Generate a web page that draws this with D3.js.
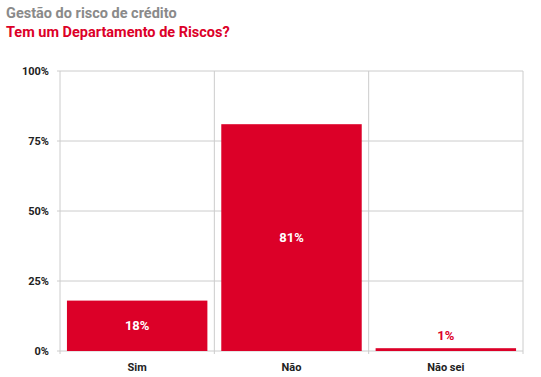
<!DOCTYPE html>
<html>
<head>
<meta charset="utf-8">
<script src="https://cdnjs.cloudflare.com/ajax/libs/d3/7.8.5/d3.min.js"></script>
<style>
  body { margin: 0; background: #fff; }
  text { font-family: Roboto, "Open Sans", sans-serif; }
</style>
</head>
<body>
<script>
var categories = ["Sim", "Não", "Não sei"];
var values = [18, 81, 1];
var yTicks = [0, 25, 50, 75, 100];
var title = "Gestão do risco de crédito";
var subtitle = "Tem um Departamento de Riscos?";

var W = 541, H = 377,
    margins = {top: 71, right: 18, bottom: 26, left: 60},
    width = W - margins.left - margins.right,
    height = H - margins.top - margins.bottom,
    red = "#dc0028";

var svg = d3.select("body").append("svg")
    .attr("width", W)
    .attr("height", H);

svg.append("text")
    .attr("x", 6).attr("y", 18)
    .attr("font-size", 14.5).attr("font-weight", "bold")
    .attr("fill", "#8a8a8a")
    .text(title);

svg.append("text")
    .attr("x", 6).attr("y", 37)
    .attr("font-size", 14.5).attr("font-weight", "bold")
    .attr("fill", red)
    .text(subtitle);

var x = d3.scaleBand()
    .domain(categories)
    .range([0, width])
    .paddingInner(0.09)
    .paddingOuter(0.045);

var y = d3.scaleLinear()
    .domain([0, 100])
    .range([height, 0]);

var g = svg.append("g")
    .attr("transform", "translate(" + margins.left + "," + margins.top + ")");

// horizontal grid
g.selectAll("line.hgrid")
    .data(yTicks)
    .enter().append("line")
    .attr("class", "hgrid")
    .attr("x1", -3).attr("x2", width)
    .attr("y1", function(d) { return y(d); })
    .attr("y2", function(d) { return y(d); })
    .attr("stroke", "#cccccc");

// vertical dividers at band edges
var step = width / categories.length;
var edges = d3.range(categories.length + 1).map(function(i) { return i * step; });
g.selectAll("line.vgrid")
    .data(edges)
    .enter().append("line")
    .attr("class", "vgrid")
    .attr("x1", function(d) { return d; }).attr("x2", function(d) { return d; })
    .attr("y1", 0).attr("y2", height + 3)
    .attr("stroke", "#cccccc");

// y tick labels
g.selectAll("text.ytick")
    .data(yTicks)
    .enter().append("text")
    .attr("class", "ytick")
    .attr("x", -11)
    .attr("y", function(d) { return y(d); })
    .attr("dy", "0.35em")
    .attr("text-anchor", "end")
    .attr("font-size", 11).attr("font-weight", "bold")
    .attr("fill", "#222")
    .text(function(d) { return d + "%"; });

// bars
g.selectAll("rect.bar")
    .data(values)
    .enter().append("rect")
    .attr("class", "bar")
    .attr("x", function(d, i) { return x(categories[i]); })
    .attr("width", x.bandwidth())
    .attr("y", function(d) { return y(d); })
    .attr("height", function(d) { return height - y(d); })
    .attr("fill", red);

// value labels
g.selectAll("text.val")
    .data(values)
    .enter().append("text")
    .attr("class", "val")
    .attr("x", function(d, i) { return x(categories[i]) + x.bandwidth() / 2; })
    .attr("y", function(d) {
        var h = height - y(d);
        return h > 30 ? y(d) + h / 2 : y(d) - 13;
    })
    .attr("dy", "0.35em")
    .attr("text-anchor", "middle")
    .attr("font-size", 13).attr("font-weight", "bold")
    .attr("fill", function(d) { return (height - y(d)) > 30 ? "#fff" : red; })
    .text(function(d) { return d + "%"; });

// category labels
g.selectAll("text.cat")
    .data(categories)
    .enter().append("text")
    .attr("class", "cat")
    .attr("x", function(d) { return x(d) + x.bandwidth() / 2; })
    .attr("y", height + 16)
    .attr("dy", "0.35em")
    .attr("text-anchor", "middle")
    .attr("font-size", 11).attr("font-weight", "bold")
    .attr("fill", "#222")
    .text(function(d) { return d; });
</script>
</body>
</html>
